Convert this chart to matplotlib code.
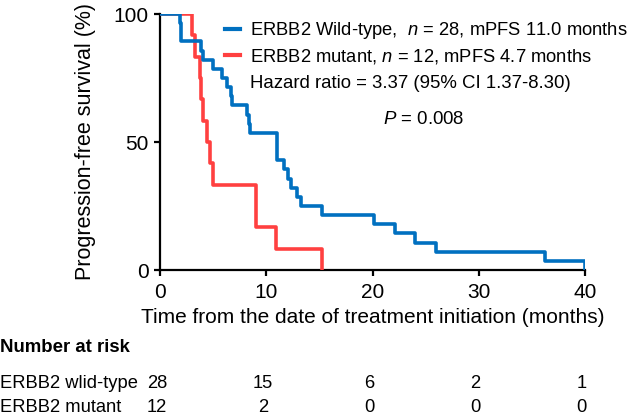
import matplotlib
matplotlib.use("Agg")
import matplotlib.pyplot as plt
import matplotlib.transforms as mtransforms
from matplotlib.lines import Line2D

plt.rcParams["font.family"] = ["Liberation Sans", "DejaVu Sans"]
plt.rcParams["mathtext.fontset"] = "custom"
plt.rcParams["mathtext.rm"] = "Liberation Sans"
plt.rcParams["mathtext.it"] = "Liberation Sans:italic"

# Kaplan-Meier steps (months, % progression-free)
wt_times = [0, 1.9, 2.0, 3.9, 4.0, 5.0, 5.8, 6.3, 6.7, 6.8, 8.2, 8.4, 8.5,
            11.0, 11.7, 12.0, 12.3, 12.9, 13.3, 15.2, 20.1, 22.1, 24.0, 26.0,
            36.2, 40.0]
wt_surv = [100, 96.4, 89.3, 85.7, 82.1, 78.6, 75.0, 71.4, 67.9, 64.3, 60.7,
           57.1, 53.6, 42.9, 39.3, 35.7, 32.1, 28.6, 25.0, 21.4, 17.9, 14.3,
           10.7, 7.1, 3.6, 0]

mut_times = [0, 3.0, 3.3, 3.8, 3.9, 4.0, 4.4, 4.7, 5.0, 9.0, 10.9, 15.2]
mut_surv = [100, 91.7, 83.3, 75.0, 66.7, 58.3, 50.0, 41.7, 33.3, 16.7, 8.3, 0]

risk_times = [0, 10, 20, 30, 40]
risk_wt = [28, 15, 6, 2, 1]
risk_mut = [12, 2, 0, 0, 0]
risk_labels = ["ERBB2 wlid-type", "ERBB2 mutant"]

legend_labels = ["ERBB2 Wild-type,  $n$ = 28, mPFS 11.0 months",
                 "ERBB2 mutant, $n$ = 12, mPFS 4.7 months"]

blue = "#0070C0"
red = "#FF4040"

W, H = 631, 416
fig = plt.figure(figsize=(W / 100, H / 100), dpi=100)
ax = fig.add_axes([160 / W, 1 - 270 / H, 425 / W, 256 / H])

ax.step(mut_times, mut_surv, where="post", color=red, lw=2.6, zorder=3)
ax.step(wt_times, wt_surv, where="post", color=blue, lw=2.6, zorder=4)

ax.set_xlim(0, 40)
ax.set_ylim(0, 100)
ax.set_xticks([0, 10, 20, 30, 40])
ax.set_yticks([0, 50, 100])
for s in ["top", "right"]:
    ax.spines[s].set_visible(False)
for s in ["left", "bottom"]:
    ax.spines[s].set_linewidth(1.6)
ax.tick_params(width=1.6, length=4, labelsize=15)
ax.tick_params(axis="x", pad=5)
ax.tick_params(axis="y", pad=4)
ax.set_xlabel("Time from the date of treatment initiation (months)",
              fontsize=15, labelpad=5)
ax.set_ylabel("Progression-free survival (%)", fontsize=15.5, labelpad=13)

handles = [Line2D([], [], color=blue, lw=3), Line2D([], [], color=red, lw=3)]
ax.legend(handles, legend_labels, loc="upper left",
          bbox_to_anchor=(225 / W, 1 - 20 / H), bbox_transform=fig.transFigure,
          frameon=False, fontsize=13.2, handlelength=0.8, handletextpad=0.55,
          labelspacing=0.3, borderpad=0, borderaxespad=0)
fig.text(250 / W, 1 - 83 / H, "Hazard ratio = 3.37 (95% CI 1.37-8.30)",
         fontsize=13.4, va="center")
fig.text(383 / W, 1 - 119 / H, "$P$ = 0.008", fontsize=13.4, va="center")

# number at risk table
fig.text(0.0, 1 - 347 / H, "Number at risk", fontsize=13.4, fontweight="bold",
         va="center")
trans = mtransforms.blended_transform_factory(ax.transData, fig.transFigure)
for row, (lab, counts) in enumerate(zip(risk_labels, [risk_wt, risk_mut])):
    y = 1 - (383 + 25 * row) / H
    fig.text(0.0, y, lab, fontsize=13.2, va="center")
    for t, c in zip(risk_times, counts):
        ax.text(t - 0.3, y, str(c), fontsize=13.2, va="center", ha="center",
                transform=trans)

fig.savefig("out.png", dpi=100)
